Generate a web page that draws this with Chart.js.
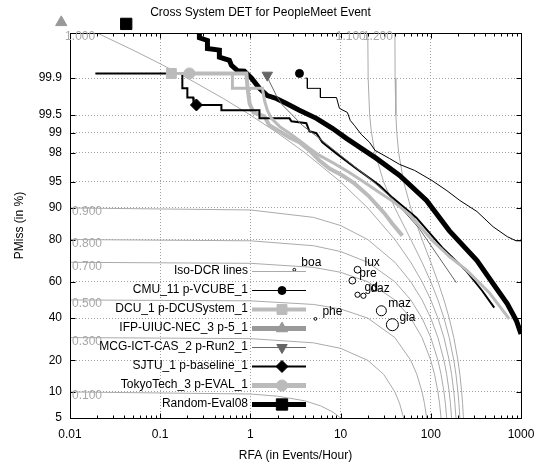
<!DOCTYPE html>
<html>
<head>
<meta charset="utf-8">
<script src="https://cdn.jsdelivr.net/npm/chart.js@4.4.0/dist/chart.umd.min.js"></script>
<style>
html, body { margin: 0; padding: 0; background: #fff; }
#wrap { width: 540px; height: 463px; }
</style>
</head>
<body>
<div id="wrap"><canvas id="det" width="540" height="463"></canvas></div>
<script>
// axis ticks
const xTicks = [0.01, 0.1, 1, 10, 100, 1000];
const xTickLabels = ['0.01', '0.1', '1', '10', '100', '1000'];
const yTicks = [99.9, 99.5, 99, 98, 95, 90, 80, 60, 40, 20, 10, 5];
const yTickLabels = ['99.9', '99.5', '99', '98', '95', '90', '80', '60', '40', '20', '10', '5'];

// iso-DCR lines, points as [RFA, PMiss %]
const isoNames = ['0.100', '0.300', '0.500', '0.700', '0.800', '0.900', '1.000', '1.100', '1.200'];
const iso010 = [[0.01,10],[1,9.5],[2,9],[4,8],[6,7],[8,6],[9,5.5],[10,5]];
const iso030 = [[0.01,30],[1,29.5],[5,27.5],[10,25],[20,20],[30,15],[40,10],[45,7.5],[50,5]];
const iso050 = [[0.01,50],[1,49.5],[5,47.5],[10,45],[20,40],[40,30],[60,20],[70,15],[80,10],[85,7.5],[90,5]];
const iso070 = [[0.01,70],[1,69.5],[5,67.5],[10,65],[20,60],[40,50],[60,40],[80,30],[100,20],[110,15],[120,10],[125,7.5],[130,5]];
const iso080 = [[0.01,80],[1,79.5],[5,77.5],[10,75],[20,70],[40,60],[60,50],[80,40],[100,30],[120,20],[130,15],[140,10],[145,7.5],[150,5]];
const iso090 = [[0.01,90],[1,89.5],[5,87.5],[10,85],[20,80],[40,70],[60,60],[80,50],[100,40],[120,30],[140,20],[150,15],[160,10],[165,7.5],[170,5]];
const iso100 = [[0.02,99.99],[0.05,99.975],[0.1,99.95],[0.2,99.9],[0.5,99.75],[1,99.5],[2,99],[4,98],[10,95],[20,90],[40,80],[60,70],[80,60],[100,50],[120,40],[140,30],[160,20],[170,15],[180,10],[185,7.5],[190,5]];
const iso110 = [[20.02,99.99],[20.2,99.9],[21,99.5],[22,99],[24,98],[30,95],[40,90],[60,80],[80,70],[100,60],[120,50],[140,40],[160,30],[180,20],[190,15],[200,10],[205,7.5],[210,5]];
const iso120 = [[40.02,99.99],[40.2,99.9],[41,99.5],[42,99],[44,98],[50,95],[60,90],[80,80],[100,70],[120,60],[140,50],[160,40],[180,30],[200,20],[210,15],[220,10],[225,7.5],[230,5]];

// system DET curves [RFA, PMiss %]
const seriesNames = ['CMU_11 p-VCUBE_1', 'DCU_1 p-DCUSystem_1', 'IFP-UIUC-NEC_3 p-5_1', 'MCG-ICT-CAS_2 p-Run2_1', 'SJTU_1 p-baseline_1', 'TokyoTech_3 p-EVAL_1', 'Random-Eval08'];
const cmuCurve = [[4.07,99.9],[4.28,99.9],[4.28,99.84],[5.97,99.84],[5.97,99.76],[9.0,99.76],[9.7,99.62],[11.9,99.55],[12.8,99.38],[14.2,99.25],[16.9,98.95],[20.9,98.6],[24.1,98.14],[34.7,97.57],[45.1,97.05],[66.2,96.44],[102.8,95.2],[151,93.6],[210,91.7],[325,89.1],[491,84.6],[705,81.1],[880,79.5],[1000,79.5]];
const dcuCurve = [[0.133,99.92],[0.632,99.92],[0.632,99.84],[1.36,99.84],[1.43,99.73],[1.54,99.59],[1.71,99.43],[2.1,99.22],[2.71,98.99],[3.49,98.69],[4.51,98.27],[5.83,97.8],[8.5,97.14],[12.5,96.2],[18.5,94.9],[26.9,93.3],[39.4,91.3],[58.3,88.3],[104,79.6],[161,72.7],[248,66.2],[446,54],[740,39.6]];
const ifpCurve = [];
const mcgCurve = [[1.54,99.913],[1.62,99.884],[1.94,99.78],[2.26,99.67],[2.92,99.5],[3.77,99.25],[5.83,98.78],[11.0,97.57],[20.8,95.5],[39.4,91.7],[74.5,84.0],[124,72.2],[192,59.5]];
const sjtuCurve = [[0.0191,99.92],[0.176,99.92],[0.176,99.84],[0.2,99.84],[0.2,99.76],[0.232,99.76],[0.235,99.67],[0.477,99.67],[0.477,99.59],[1.26,99.59],[1.26,99.43],[2.71,99.43],[2.85,99.36],[4.17,99.31],[4.51,99.06],[5.39,98.99],[6.28,98.59],[8.96,97.94],[14.9,96.65],[26.9,94.5],[37.5,92.3],[69.2,87.4],[134,76.7],[246,65.8],[371,55.1],[505,45.7]];
const tokyoCurve = [[0.211,99.92],[0.903,99.92],[0.93,99.84],[0.98,99.69],[1.08,99.55],[1.43,99.475],[1.62,99.25],[2.1,99.06],[2.71,98.82],[3.49,98.6],[4.51,98.14],[5.83,97.4],[7.52,96.65],[10.5,95.85],[14.2,94.77],[20.8,92.5],[30.7,88.6],[37.5,85.6],[48.4,81.5]];
const randomCurve = [[0.272,99.99],[0.272,99.987],[0.334,99.985],[0.334,99.977],[0.453,99.975],[0.453,99.964],[0.585,99.958],[0.616,99.946],[0.718,99.93],[0.858,99.928],[1.03,99.9],[1.26,99.84],[1.54,99.78],[1.94,99.75],[2.51,99.69],[3.49,99.59],[5.39,99.43],[8.1,99.16],[11.6,98.78],[24.9,97.57],[45.1,95.85],[89.6,91.7],[160,83.3],[325,70.8],[491,58.9],[705,47.9],[890,38.6],[1000,31.8]];

// minimum DCR points
const cmuMark = [3.5, 99.92];
const dcuMark = [0.133, 99.92];
const ifpMark = [0.008, 99.9945];
const mcgMark = [1.54, 99.913];
const sjtuMark = [0.252, 99.67];
const tokyoMark = [0.211, 99.92];
const randomMark = [0.042, 99.994];

// other labelled points
const otherNames = ['boa', 'lux', 'pre', 'gd', 'daz', 'maz', 'gia', 'phe'];
const otherPoints = [[3.07,66.3],[15.4,66.3],[13.5,60.6],[15.4,52.9],[17.9,52.3],[28.3,44.0],[37.5,36.5],[5.26,39.6]];

const isoLines = [iso010, iso030, iso050, iso070, iso080, iso090, iso100, iso110, iso120];
const seriesCurves = [cmuCurve, dcuCurve, ifpCurve, mcgCurve, sjtuCurve, tokyoCurve, randomCurve];
const seriesMarks = [cmuMark, dcuMark, ifpMark, mcgMark, sjtuMark, tokyoMark, randomMark];

const seriesStyle = [
  {color: '#000000', width: 1, legendWidth: 1, point: 'circle', radius: 4, rot: 0},
  {color: '#bbbbbb', width: 3, legendWidth: 4, point: 'rect', radius: 7, rot: 0},
  {color: '#999999', width: 4, legendWidth: 5, point: 'triangle', radius: 6.5, rot: 0},
  {color: '#666666', width: 1, legendWidth: 1, point: 'triangle', radius: 6, rot: 180},
  {color: '#000000', width: 2, legendWidth: 2, point: 'rectRot', radius: 6, rot: 0},
  {color: '#bbbbbb', width: 4, legendWidth: 5, point: 'circle', radius: 5.5, rot: 0},
  {color: '#000000', width: 5, legendWidth: 5, point: 'rect', radius: 8, rot: 0}
];
const otherRadius = [1.4, 3.4, 3.4, 2.6, 2.6, 5, 6, 1.4];
const isoColor = '#aaaaaa';
const FONT = '"Liberation Sans", Arial, sans-serif';

// inverse normal CDF (Acklam)
function probit(p) {
  const a = [-3.969683028665376e+01, 2.209460984245205e+02, -2.759285104469687e+02, 1.383577518672690e+02, -3.066479806614716e+01, 2.506628277459239e+00];
  const b = [-5.447609879822406e+01, 1.615858368580409e+02, -1.556989798598866e+02, 6.680131188771972e+01, -1.328068155288572e+01];
  const c = [-7.784894002430293e-03, -3.223964580411365e-01, -2.400758277161838e+00, -2.549732539343734e+00, 4.374664141464968e+00, 2.938163982698783e+00];
  const d = [7.784695709041462e-03, 3.224671290700398e-01, 2.445134137142996e+00, 3.754408661907416e+00];
  const pl = 0.02425;
  let q, r;
  if (p < pl) {
    q = Math.sqrt(-2 * Math.log(p));
    return (((((c[0]*q+c[1])*q+c[2])*q+c[3])*q+c[4])*q+c[5]) / ((((d[0]*q+d[1])*q+d[2])*q+d[3])*q+1);
  }
  if (p <= 1 - pl) {
    q = p - 0.5; r = q * q;
    return (((((a[0]*r+a[1])*r+a[2])*r+a[3])*r+a[4])*r+a[5])*q / (((((b[0]*r+b[1])*r+b[2])*r+b[3])*r+b[4])*r+1);
  }
  q = Math.sqrt(-2 * Math.log(1 - p));
  return -(((((c[0]*q+c[1])*q+c[2])*q+c[3])*q+c[4])*q+c[5]) / ((((d[0]*q+d[1])*q+d[2])*q+d[3])*q+1);
}
const P = v => probit(v / 100);
const toPts = arr => arr.map(p => ({x: p[0], y: P(p[1])}));

const datasets = [];
isoLines.forEach((line, i) => {
  datasets.push({
    data: toPts(line), showLine: true, borderColor: isoColor, borderWidth: 1,
    pointRadius: 0, order: 10, isoLabel: isoNames[i]
  });
});
seriesCurves.forEach((curve, i) => {
  const s = seriesStyle[i];
  datasets.push({
    data: toPts(curve), showLine: true, borderColor: s.color, borderWidth: s.width,
    pointRadius: 0, order: 5
  });
});
seriesMarks.forEach((m, i) => {
  const s = seriesStyle[i];
  datasets.push({
    data: toPts([m]), showLine: false, pointStyle: s.point, pointRadius: s.radius,
    pointRotation: s.rot, backgroundColor: s.color, borderColor: s.color, borderWidth: 1,
    order: 0, isMark: i
  });
});
datasets.push({
  data: toPts(otherPoints), showLine: false, pointStyle: 'circle', pointRadius: otherRadius,
  backgroundColor: 'rgba(0,0,0,0)', borderColor: '#000', borderWidth: 1, order: 1, names: otherNames
});

const detDecor = {
  id: 'detDecor',
  afterDatasetsDraw(chart) {
    const ctx = chart.ctx;
    const a = chart.chartArea;
    const xs = chart.scales.x, ys = chart.scales.y;
    ctx.save();

    // min DCR marks that sit above the plotted range
    chart.data.datasets.forEach((ds, i) => {
      if (ds.isMark === undefined) return;
      const el = chart.getDatasetMeta(i).data[0];
      if (el.y >= a.top && el.x >= a.left) return;
      const s = seriesStyle[ds.isMark];
      ctx.fillStyle = s.color; ctx.strokeStyle = s.color; ctx.lineWidth = 1;
      Chart.helpers.drawPoint(ctx, {pointStyle: s.point, radius: s.radius, rotation: s.rot, borderWidth: 1}, el.x, el.y);
    });

    // frame and inside ticks
    ctx.strokeStyle = '#000'; ctx.lineWidth = 1;
    const L = Math.round(a.left) + 0.5, R = Math.round(a.right) + 0.5;
    const T = Math.round(a.top) + 0.5, B = Math.round(a.bottom) + 0.5;
    ctx.strokeRect(L, T, R - L, B - T);
    ctx.beginPath();
    xTicks.forEach((v, k) => {
      const px = Math.round(xs.getPixelForValue(v)) + 0.5;
      ctx.moveTo(px, B); ctx.lineTo(px, B - 5);
      ctx.moveTo(px, T); ctx.lineTo(px, T + 5);
      if (k < xTicks.length - 1) {
        for (let m = 2; m <= 9; m++) {
          const mx = Math.round(xs.getPixelForValue(v * m)) + 0.5;
          ctx.moveTo(mx, B); ctx.lineTo(mx, B - 3);
          ctx.moveTo(mx, T); ctx.lineTo(mx, T + 3);
        }
      }
    });
    yTicks.forEach(v => {
      const py = Math.round(ys.getPixelForValue(P(v))) + 0.5;
      ctx.moveTo(L, py); ctx.lineTo(L + 5, py);
      ctx.moveTo(R, py); ctx.lineTo(R - 5, py);
    });
    ctx.stroke();

    // iso-DCR labels
    ctx.font = '12px ' + FONT;
    ctx.fillStyle = '#a8a8a8';
    ctx.textBaseline = 'middle';
    chart.data.datasets.forEach((ds, i) => {
      if (!ds.isoLabel) return;
      const el = chart.getDatasetMeta(i).data[0];
      if (el.y <= a.top + 1) {
        ctx.textAlign = 'right';
        ctx.fillText(ds.isoLabel, el.x - 2, a.top + 4);
      } else {
        ctx.textAlign = 'left';
        ctx.fillText(ds.isoLabel, el.x + 2, el.y + 4);
      }
    });

    // labels of other points
    ctx.fillStyle = '#000';
    ctx.textAlign = 'left';
    chart.data.datasets.forEach((ds, i) => {
      if (!ds.names) return;
      chart.getDatasetMeta(i).data.forEach((el, k) => {
        ctx.fillText(ds.names[k], el.x + 7, el.y - 7);
      });
    });

    // legend inside the plot
    const textX = a.left + 178, lx1 = a.left + 182, lx2 = a.left + 236, mx = a.left + 212;
    const rows = [{name: 'Iso-DCR lines', iso: true}].concat(seriesNames.map((n, i) => ({name: n, s: seriesStyle[i]})));
    rows.forEach((row, k) => {
      const y = a.top + 238 + k * 19;
      ctx.fillStyle = '#000';
      ctx.textAlign = 'right';
      ctx.fillText(row.name, textX, y);
      ctx.beginPath();
      ctx.lineWidth = row.iso ? 1 : row.s.legendWidth;
      ctx.strokeStyle = row.iso ? isoColor : row.s.color;
      ctx.moveTo(lx1, Math.round(y) + 0.5); ctx.lineTo(lx2, Math.round(y) + 0.5);
      ctx.stroke();
      if (!row.iso) {
        ctx.fillStyle = row.s.color; ctx.strokeStyle = row.s.color; ctx.lineWidth = 1;
        Chart.helpers.drawPoint(ctx, {pointStyle: row.s.point, radius: row.s.radius, rotation: row.s.rot, borderWidth: 1}, mx, Math.round(y) + 0.5);
      }
    });
    ctx.restore();
  }
};

Chart.defaults.font.family = FONT;
Chart.defaults.font.size = 12;
Chart.defaults.color = '#000';

new Chart(document.getElementById('det'), {
  type: 'scatter',
  data: {datasets: datasets},
  options: {
    responsive: false,
    animation: false,
    events: [],
    layout: {padding: {left: 0, right: 19, top: 0, bottom: 0}},
    plugins: {
      legend: {display: false},
      tooltip: {enabled: false},
      title: {
        display: true, text: 'Cross System DET for PeopleMeet Event',
        font: {size: 12, weight: 'normal', family: FONT}, color: '#000',
        padding: {top: 5, bottom: 13.6}
      }
    },
    scales: {
      x: {
        type: 'logarithmic', position: 'bottom', min: 0.01, max: 1000,
        afterFit(s) { s.height = 45; s.paddingLeft = 0; s.paddingRight = 0; },
        afterBuildTicks(s) { s.ticks = xTicks.map(v => ({value: v})); },
        ticks: {callback: (v, i) => xTickLabels[i], autoSkip: false, maxRotation: 0, padding: 9, color: '#000'},
        grid: {color: '#a0a0a0', lineWidth: 1, drawTicks: false, borderDash: [1, 2]},
        border: {display: false, dash: [1, 2]},
        title: {display: true, text: 'RFA (in Events/Hour)', color: '#000', padding: {top: 0, bottom: 0}}
      },
      y: {
        type: 'linear', position: 'left', min: P(5), max: P(99.99),
        afterFit(s) { s.width = 70; s.paddingTop = 0; s.paddingBottom = 0; },
        afterBuildTicks(s) { s.ticks = yTicks.map(v => ({value: P(v)})); },
        ticks: {callback: (v, i) => yTickLabels[i], autoSkip: false, padding: 8, color: '#000'},
        grid: {color: '#a0a0a0', lineWidth: 1, drawTicks: false, borderDash: [1, 2]},
        border: {display: false, dash: [1, 2]},
        title: {display: true, text: 'PMiss (in %)', color: '#000', padding: {top: 12, bottom: 0}}
      }
    }
  },
  plugins: [detDecor]
});
</script>
</body>
</html>
